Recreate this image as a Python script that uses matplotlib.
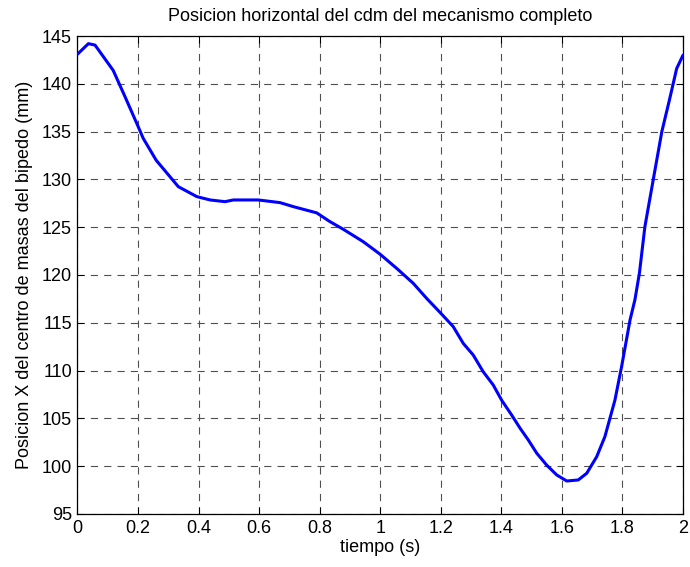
import matplotlib
matplotlib.use("Agg")
import matplotlib.pyplot as plt

# Horizontal position of the biped's centre of mass over one gait cycle
tiempo = [0.000, 0.036, 0.058, 0.118, 0.157, 0.198, 0.217, 0.260, 0.333, 0.394,
          0.438, 0.487, 0.515, 0.597, 0.669, 0.713, 0.790, 0.834, 0.878, 0.944,
          1.000, 1.054, 1.109, 1.153, 1.200, 1.241, 1.274, 1.307, 1.340, 1.373,
          1.401, 1.434, 1.462, 1.489, 1.517, 1.550, 1.583, 1.616, 1.654, 1.682,
          1.715, 1.742, 1.775, 1.797, 1.825, 1.841, 1.856, 1.874, 1.902, 1.930,
          1.955, 1.979, 2.000]
posicion_x = [143.1, 144.2, 144.05, 141.4, 138.65, 135.7, 134.3, 132.0, 129.24, 128.2,
              127.85, 127.67, 127.85, 127.85, 127.57, 127.15, 126.5, 125.58, 124.78, 123.48,
              122.16, 120.7, 119.13, 117.56, 116.0, 114.6, 112.85, 111.63, 109.88, 108.5,
              106.9, 105.35, 103.96, 102.74, 101.35, 100.1, 99.08, 98.45, 98.56, 99.26,
              101.0, 103.1, 106.9, 110.4, 115.3, 117.4, 120.2, 125.05, 130.04, 135.0,
              138.3, 141.6, 143.0]

x_ticks = [0, 0.2, 0.4, 0.6, 0.8, 1, 1.2, 1.4, 1.6, 1.8, 2]
x_tick_labels = ["0", "0.2", "0.4", "0.6", "0.8", "1", "1.2", "1.4", "1.6", "1.8", "2"]
y_ticks = [95, 100, 105, 110, 115, 120, 125, 130, 135, 140, 145]

plt.rcParams["font.family"] = ["Liberation Sans", "DejaVu Sans"]

fig = plt.figure(figsize=(6.9, 5.67), dpi=100)
ax = fig.add_axes([0.1123, 0.0935, 0.8776, 0.843])

ax.plot(tiempo, posicion_x, color="#0000ff", linewidth=2.2, zorder=3,
        solid_joinstyle="round", solid_capstyle="round")

ax.set_xlim(0, 2)
ax.set_ylim(95, 145)
ax.set_xticks(x_ticks)
ax.set_xticklabels(x_tick_labels)
ax.set_yticks(y_ticks)

ax.grid(True, color="#505050", linestyle=(0, (6.5, 5.5)), linewidth=0.8)
ax.tick_params(direction="in", length=5, width=0.75, top=True, right=True,
               labelsize=13, colors="black", pad=4)
for s in ax.spines.values():
    s.set_linewidth(0.9)
    s.set_color("black")

ax.set_title("Posicion horizontal del cdm del mecanismo completo", fontsize=13, pad=11)
ax.set_xlabel("tiempo (s)", fontsize=13, labelpad=2)
ax.set_ylabel("Posicion X del centro de masas del bipedo (mm)", fontsize=13, labelpad=6)

fig.savefig("out.png", dpi=100)
